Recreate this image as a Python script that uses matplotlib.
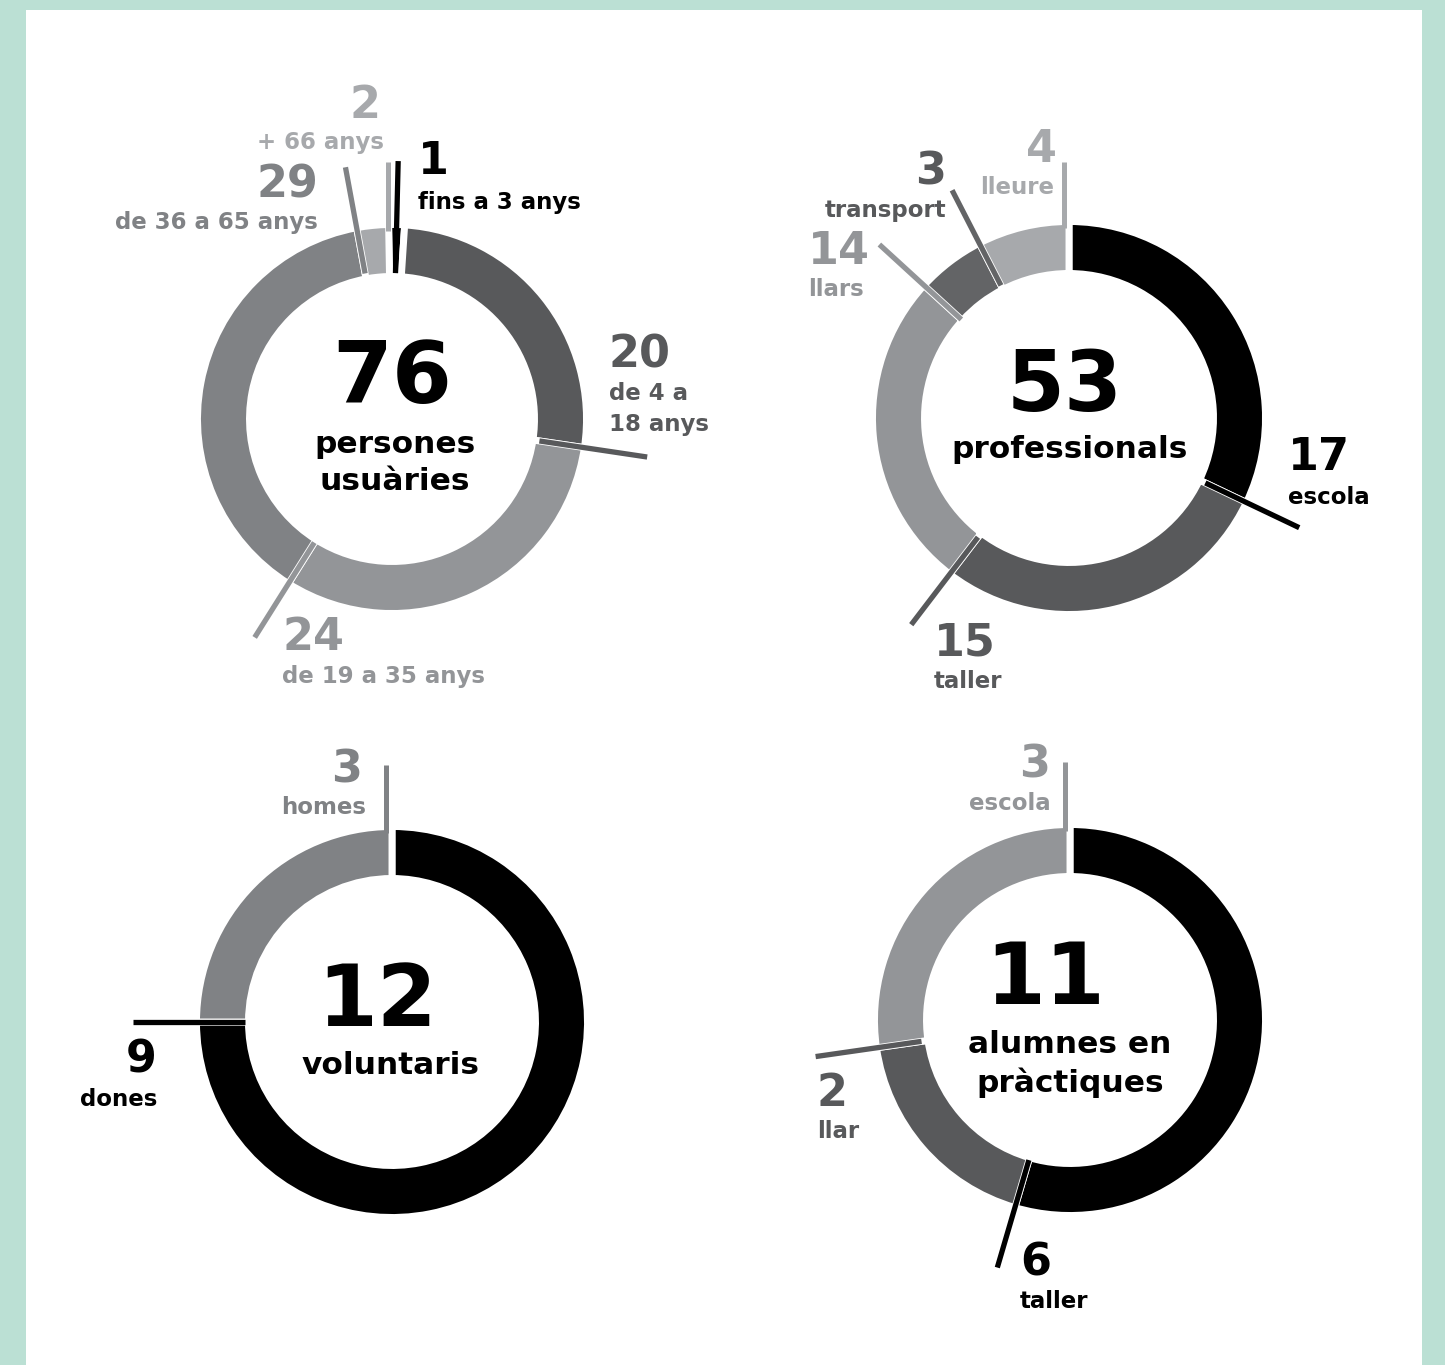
import numpy as np
import matplotlib
matplotlib.use("Agg")
import matplotlib.pyplot as plt
from matplotlib.patches import Rectangle

plt.rcParams['font.family'] = ['DejaVu Sans']

W, H = 1445, 1365

NEGRE = "#000000"
FOSC = "#58595b"
GRIS = "#808285"
CLAR = "#939598"
MOLT_CLAR = "#a7a9ac"
TRANSP = "#636466"

# dades
usuaris_valors = [1, 20, 24, 29, 2]
usuaris_etiq = ["fins a 3 anys", "de 4 a\n18 anys", "de 19 a 35 anys", "de 36 a 65 anys", "+ 66 anys"]
usuaris_colors = [NEGRE, FOSC, CLAR, GRIS, MOLT_CLAR]

prof_valors = [17, 15, 14, 3, 4]
prof_etiq = ["escola", "taller", "llars", "transport", "lleure"]
prof_colors = [NEGRE, FOSC, CLAR, TRANSP, MOLT_CLAR]

volunt_valors = [9, 3]
volunt_etiq = ["dones", "homes"]
volunt_colors = [NEGRE, GRIS]

alumnes_valors = [6, 2, 3]
alumnes_etiq = ["taller", "llar", "escola"]
alumnes_colors = [NEGRE, FOSC, CLAR]

fig = plt.figure(figsize=(W / 100, H / 100), dpi=100, facecolor="#bbe0d4")
ax = fig.add_axes([0, 0, 1, 1])
ax.add_patch(Rectangle((26, 10), 1422 - 26, H - 10, facecolor="white", edgecolor="none", zorder=0))

GRUIX = 52


def donut(valors, colors, cx, cy, R, offset=0.0):
    # angles en sentit horari des de dalt (eix y invertit)
    ax.pie(valors, colors=colors, radius=R + 3.5, center=(cx, cy), startangle=-90 + offset,
           counterclock=True,
           wedgeprops=dict(width=GRUIX, edgecolor="white", linewidth=5), frame=True)
    cum = np.cumsum([0] + list(valors)) / sum(valors) * 360 + offset
    return cum


def punt(cx, cy, ang, r):
    a = np.radians(ang)
    return cx + r * np.sin(a), cy - r * np.cos(a)


def radial(cx, cy, ang, r0, r1, color):
    x0, y0 = punt(cx, cy, ang, r0)
    x1, y1 = punt(cx, cy, ang, r1)
    ax.plot([x0, x1], [y0, y1], color=color, lw=3.8, solid_capstyle="butt", zorder=5)


def vertical(cx, cy, ang, R, ytop, color):
    x0, y0 = punt(cx, cy, ang, R - 3)
    ax.plot([x0, x0], [y0, ytop], color=color, lw=3.6, solid_capstyle="butt", zorder=5)


def num(x, y, t, color, ha="left", size=32):
    ax.text(x, y, t, color=color, ha=ha, va="center", fontsize=size, fontweight="bold", zorder=6)


def lab(x, y, t, color, ha="left", size=16.5):
    ax.text(x, y, t, color=color, ha=ha, va="center", fontsize=size, fontweight="bold",
            linespacing=1.4, zorder=6)


# 1. persones usuaries
cx, cy, R = 392, 419, 191
c = donut(usuaris_valors, usuaris_colors, cx, cy, R, offset=-1.0)
radial(cx, cy, (c[0] + c[1]) / 2, 146, 258, NEGRE)
radial(cx, cy, c[2], 149, 258, FOSC)
radial(cx, cy, c[3], 146, 258, CLAR)
radial(cx, cy, c[4], 148, 256, GRIS)
vertical(cx, cy, c[5] - 0.3, R, 162, MOLT_CLAR)
ax.text(392, 380, str(sum(usuaris_valors)), ha="center", va="center", fontsize=62, fontweight="bold")
ax.text(395, 463, "persones\nusuàries", ha="center", va="center", fontsize=22.5, fontweight="bold",
        linespacing=1.35)
num(418, 162, str(usuaris_valors[0]), NEGRE)
lab(418, 202, usuaris_etiq[0], NEGRE)
num(609, 355, str(usuaris_valors[1]), FOSC)
lab(609, 409, usuaris_etiq[1], FOSC)
num(282, 638, str(usuaris_valors[2]), CLAR)
lab(282, 677, usuaris_etiq[2], CLAR)
num(318, 185, str(usuaris_valors[3]), GRIS, ha="right")
lab(318, 223, usuaris_etiq[3], GRIS, ha="right")
num(365, 105, str(usuaris_valors[4]), MOLT_CLAR, ha="center")
lab(384, 143, usuaris_etiq[4], MOLT_CLAR, ha="right")

# 2. professionals
cx, cy, R = 1069, 418, 193
c = donut(prof_valors, prof_colors, cx, cy, R)
radial(cx, cy, c[1], 151, 255, NEGRE)
radial(cx, cy, c[2], 150, 260, FOSC)
radial(cx, cy, c[3], 146, 257, CLAR)
radial(cx, cy, c[4], 149, 256, TRANSP)
vertical(cx, cy, c[5] - 1.5, R, 162, MOLT_CLAR)
ax.text(1065, 388, str(sum(prof_valors)), ha="center", va="center", fontsize=60, fontweight="bold")
ax.text(1070, 450, "professionals", ha="center", va="center", fontsize=22.5, fontweight="bold")
num(1288, 458, str(prof_valors[0]), NEGRE)
lab(1288, 497, prof_etiq[0], NEGRE)
num(934, 643, str(prof_valors[1]), FOSC)
lab(934, 682, prof_etiq[1], FOSC)
num(808, 252, str(prof_valors[2]), CLAR)
lab(808, 290, prof_etiq[2], CLAR)
num(946, 172, str(prof_valors[3]), FOSC, ha="right")
lab(946, 210, prof_etiq[3], FOSC, ha="right")
num(1057, 150, str(prof_valors[4]), MOLT_CLAR, ha="right")
lab(1054, 187, prof_etiq[4], MOLT_CLAR, ha="right")

# 3. voluntaris
cx, cy, R = 392, 1022, 192
c = donut(volunt_valors, volunt_colors, cx, cy, R)
radial(cx, cy, c[1], 147, 259, NEGRE)
vertical(cx, cy, c[2] - 1.8, R, 765, GRIS)
ax.text(377, 1002, str(sum(volunt_valors)), ha="center", va="center", fontsize=62, fontweight="bold")
ax.text(391, 1066, "voluntaris", ha="center", va="center", fontsize=22.5, fontweight="bold")
num(157, 1060, str(volunt_valors[0]), NEGRE, ha="right")
lab(157, 1099, volunt_etiq[0], NEGRE, ha="right")
num(362, 770, str(volunt_valors[1]), GRIS, ha="right")
lab(366, 807, volunt_etiq[1], GRIS, ha="right")

# 4. alumnes en practiques
cx, cy, R = 1070, 1020, 192
c = donut(alumnes_valors, alumnes_colors, cx, cy, R)
radial(cx, cy, c[1], 146, 258, NEGRE)
radial(cx, cy, c[2], 150, 257, FOSC)
vertical(cx, cy, c[3] - 1.5, R, 762, CLAR)
ax.text(1045, 980, str(sum(alumnes_valors)), ha="center", va="center", fontsize=62, fontweight="bold")
ax.text(1070, 1064, "alumnes en\npràctiques", ha="center", va="center", fontsize=22.5, fontweight="bold",
        linespacing=1.35)
num(1020, 1263, str(alumnes_valors[0]), NEGRE)
lab(1020, 1301, alumnes_etiq[0], NEGRE)
num(817, 1093, str(alumnes_valors[1]), FOSC)
lab(817, 1131, alumnes_etiq[1], FOSC)
num(1050, 765, str(alumnes_valors[2]), CLAR, ha="right")
lab(1051, 803, alumnes_etiq[2], CLAR, ha="right")

ax.set_xlim(0, W)
ax.set_ylim(H, 0)
ax.set_aspect("equal")
ax.axis("off")

fig.savefig("out.png", dpi=100, facecolor=fig.get_facecolor())
